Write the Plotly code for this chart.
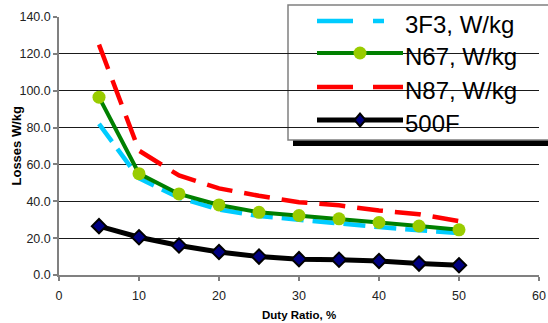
import plotly.graph_objects as go

duty = [5, 10, 15, 20, 25, 30, 35, 40, 45, 50]
loss_3f3 = [82, 52.5, 42, 35.5, 32, 29.8, 28.2, 26, 24.3, 22.8]
loss_n67 = [96.5, 55, 44, 38, 34, 32.3, 30.5, 28.5, 26.6, 24.5]
loss_n87 = [125, 67.5, 54, 47, 43, 39.5, 37.8, 35, 33, 29.2]
loss_500f = [26.5, 20.5, 16, 12.5, 10, 8.6, 8.3, 7.6, 6.2, 5.3]

x_ticks = [0, 10, 20, 30, 40, 50, 60]
y_ticks = [0, 20, 40, 60, 80, 100, 120, 140]
legend_names = ["3F3, W/kg", "N67, W/kg", "N87, W/kg", "500F"]

W, H = 548, 323
PL, PT, PR, PB = 59, 17, 539, 275          # plot area in page pixels
L, T, R, B = PL, PT, W - PR, H - PB
PW, PH = PR - PL, PB - PT


def px2x(px):
    return (px - PL) / PW


def py2y(py):
    return (PB - py) / PH


FONT = "Liberation Sans, Arial, sans-serif"

fig = go.Figure()
fig.add_trace(go.Scatter(x=duty, y=loss_3f3, mode="lines", name=legend_names[0],
                         line=dict(color="#00CCFF", width=4.5, dash="22px,9px")))
fig.add_trace(go.Scatter(x=duty, y=loss_n67, mode="lines+markers", name=legend_names[1],
                         line=dict(color="#008000", width=4),
                         marker=dict(symbol="circle", size=13, color="#99CC00")))
fig.add_trace(go.Scatter(x=duty, y=loss_n87, mode="lines", name=legend_names[2],
                         line=dict(color="#FF0000", width=4.5, dash="26px,12px")))
fig.add_trace(go.Scatter(x=duty, y=loss_500f, mode="lines+markers", name=legend_names[3],
                         line=dict(color="#000000", width=5),
                         marker=dict(symbol="diamond", size=11, color="#000080",
                                     line=dict(color="#000000", width=2))))

shapes = []
# legend box with shadow
shapes.append(dict(type="rect", xref="paper", yref="paper", layer="between",
                   x0=px2x(293), x1=px2x(570), y0=py2y(146), y1=py2y(10),
                   fillcolor="#000000", line=dict(width=0)))
shapes.append(dict(type="rect", xref="paper", yref="paper", layer="between",
                   x0=px2x(288), x1=px2x(565), y0=py2y(140), y1=py2y(5),
                   fillcolor="#FFFFFF", line=dict(color="#808080", width=1.5)))

rows = [21, 53, 87, 120]
styles = [
    dict(color="#00CCFF", width=4.5, dash="36px,20px,11px,40px"),
    dict(color="#008000", width=4, dash="solid"),
    dict(color="#FF0000", width=4.5, dash="36px,20px"),
    dict(color="#000000", width=5, dash="solid"),
]
annotations = []
for i, (ry, st) in enumerate(zip(rows, styles)):
    shapes.append(dict(type="line", xref="paper", yref="paper", layer="above",
                       x0=px2x(317), x1=px2x(403), y0=py2y(ry), y1=py2y(ry), line=st))
    annotations.append(dict(text=legend_names[i], xref="paper", yref="paper",
                            x=px2x(403), y=py2y(rows[i] + 3.5), xanchor="left", yanchor="middle",
                            showarrow=False, font=dict(family=FONT, size=24, color="#000")))
# legend markers
shapes.append(dict(type="circle", xref="paper", yref="paper", layer="above",
                   xsizemode="pixel", ysizemode="pixel", xanchor=px2x(360), yanchor=py2y(rows[1]),
                   x0=-6.5, x1=6.5, y0=-6.5, y1=6.5, fillcolor="#99CC00", line=dict(width=0)))
shapes.append(dict(type="path", xref="paper", yref="paper", layer="above",
                   xsizemode="pixel", ysizemode="pixel", xanchor=px2x(360), yanchor=py2y(rows[3]),
                   path="M0,-6.5 L5.5,0 L0,6.5 L-5.5,0 Z", fillcolor="#000080",
                   line=dict(color="#000000", width=2)))

annotations.append(dict(text="<b>Losses W/kg</b>", xref="paper", yref="paper",
                        x=px2x(15.5), y=py2y(146), textangle=-90, showarrow=False,
                        xanchor="center", yanchor="middle",
                        font=dict(family=FONT, size=13, color="#000")))
annotations.append(dict(text="<b>Duty Ratio, %</b>", xref="paper", yref="paper",
                        x=px2x(299), y=py2y(315), showarrow=False,
                        xanchor="center", yanchor="middle",
                        font=dict(family=FONT, size=11.5, color="#000")))

fig.update_layout(
    width=W, height=H,
    margin=dict(l=L, r=R, t=T, b=B, autoexpand=False),
    paper_bgcolor="#FFFFFF", plot_bgcolor="#FFFFFF",
    showlegend=False,
    shapes=shapes, annotations=annotations,
    xaxis=dict(range=[0, 60], tickvals=x_ticks, showgrid=False, zeroline=False,
               showline=True, linecolor="#808080", linewidth=1.5,
               ticks="outside", ticklen=4, tickcolor="#808080", tickwidth=1.5,
               ticklabelstandoff=4,
               tickfont=dict(family=FONT, size=12.5, color="#222")),
    yaxis=dict(range=[0, 140], tickvals=y_ticks, tickformat=".1f",
               showgrid=True, gridcolor="#1a1a1a", gridwidth=1, zeroline=False,
               showline=True, linecolor="#808080", linewidth=1.5,
               ticks="outside", ticklen=4, tickcolor="#808080", tickwidth=1.5,
               tickfont=dict(family=FONT, size=12.5, color="#222")),
)

fig.write_html("out.html", config={"displayModeBar": False},
               post_script="document.body.style.margin='0px';")
